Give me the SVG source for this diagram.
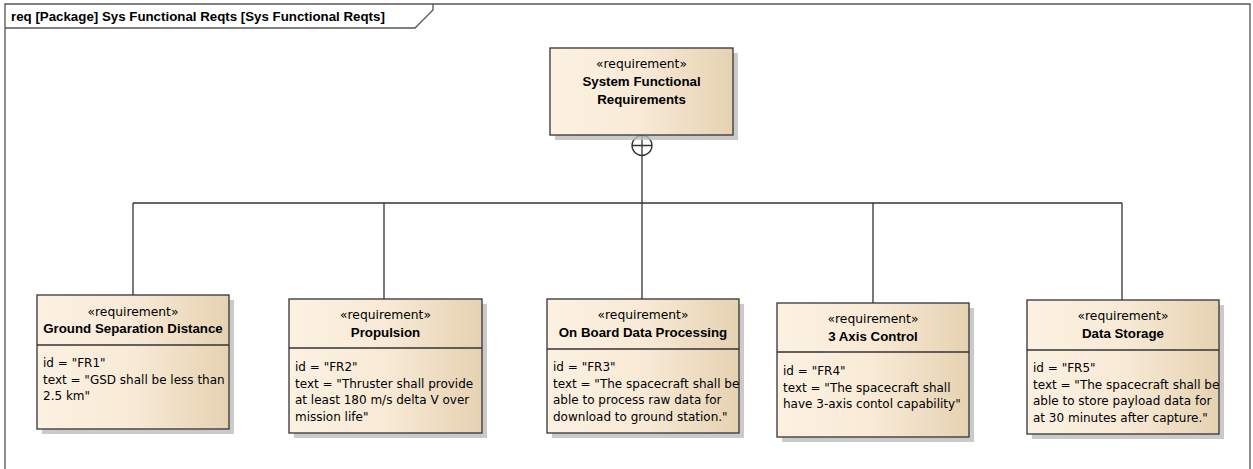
<svg xmlns="http://www.w3.org/2000/svg" width="1253" height="469" viewBox="0 0 1253 469">
<style>
.frame{fill:none;stroke:#555;stroke-width:1.3}
.title{font-family:"Liberation Sans",Arial,sans-serif;font-size:13.3px;font-weight:bold;fill:#000}
.box{fill:url(#g);stroke:#333;stroke-width:1.3}
.shadow{fill:#bdbdbd;opacity:0.8}
.div{stroke:#333;stroke-width:1.3}
.st{font-family:"DejaVu Sans",Verdana,sans-serif;font-size:12.3px;fill:#000;text-anchor:middle}
.nm{font-family:"Liberation Sans",Arial,sans-serif;font-size:13.3px;font-weight:bold;fill:#000;text-anchor:middle}
.bd{font-family:"DejaVu Sans",Verdana,sans-serif;font-size:12px;fill:#000}
.con{fill:none;stroke:#333;stroke-width:1.3}
</style>
<defs>
<linearGradient id="g" x1="0" y1="0" x2="1" y2="0">
<stop offset="0" stop-color="#fcf1e2"/>
<stop offset="0.5" stop-color="#f8ead6"/>
<stop offset="1" stop-color="#e6d2b2"/>
</linearGradient>
</defs>
<rect width="1253" height="469" fill="#fff"/>
<g id="frame">
<path class="frame" d="M5,475 L5,4 L1250,4 L1250,475"/>
<path class="frame" d="M5,28 L415,28 L433,10 L433,4"/>
<text class="title" x="11" y="20.5">req [Package] Sys Functional Reqts [Sys Functional Reqts]</text>
</g>
<g id="connectors">
<circle class="con" cx="642" cy="145.5" r="10" fill="#fff"/>
<path class="con" d="M632,145.5 H652 M642,135.5 V203"/>
<path class="con" d="M133,203 H1122 M133,203 V295 M384,203 V299 M642,203 V299 M873,203 V303 M1122,203 V300"/>
</g>
<g id="sfr">
<rect class="shadow" x="555" y="53" width="183" height="87"/>
<rect class="box" x="550" y="48" width="183" height="87"/>
<text class="st" x="641.5" y="68">«requirement»</text>
<text class="nm" x="641.5" y="86">System Functional</text>
<text class="nm" x="641.5" y="104">Requirements</text>
</g>
<g id="fr1">
<rect class="shadow" x="42" y="300" width="192" height="134"/>
<rect class="box" x="37" y="295" width="192" height="134"/>
<line class="div" x1="37" y1="345" x2="229" y2="345"/>
<text class="st" x="133" y="316">«requirement»</text>
<text class="nm" x="133" y="333">Ground Separation Distance</text>
<text class="bd" x="43" y="367">id = "FR1"</text>
<text class="bd" x="43" y="383.5">text = "GSD shall be less than</text>
<text class="bd" x="43" y="400">2.5 km"</text>
</g>
<g id="fr2">
<rect class="shadow" x="294" y="304" width="193" height="134"/>
<rect class="box" x="289" y="299" width="193" height="134"/>
<line class="div" x1="289" y1="348" x2="482" y2="348"/>
<text class="st" x="385.5" y="319">«requirement»</text>
<text class="nm" x="385.5" y="337">Propulsion</text>
<text class="bd" x="295" y="371">id = "FR2"</text>
<text class="bd" x="295" y="387.5">text = "Thruster shall provide</text>
<text class="bd" x="295" y="404">at least 180 m/s delta V over</text>
<text class="bd" x="295" y="420.5">mission life"</text>
</g>
<g id="fr3">
<rect class="shadow" x="552" y="304" width="192" height="134"/>
<rect class="box" x="547" y="299" width="192" height="134"/>
<line class="div" x1="547" y1="349" x2="739" y2="349"/>
<text class="st" x="643" y="319">«requirement»</text>
<text class="nm" x="643" y="337">On Board Data Processing</text>
<text class="bd" x="553" y="371">id = "FR3"</text>
<text class="bd" x="553" y="387.5">text = "The spacecraft shall be</text>
<text class="bd" x="553" y="404">able to process raw data for</text>
<text class="bd" x="553" y="420.5">download to ground station."</text>
</g>
<g id="fr4">
<rect class="shadow" x="782" y="308" width="192" height="134"/>
<rect class="box" x="777" y="303" width="192" height="134"/>
<line class="div" x1="777" y1="352" x2="969" y2="352"/>
<text class="st" x="873" y="323">«requirement»</text>
<text class="nm" x="873" y="341">3 Axis Control</text>
<text class="bd" x="783" y="375">id = "FR4"</text>
<text class="bd" x="783" y="391.5">text = "The spacecraft shall</text>
<text class="bd" x="783" y="408">have 3-axis contol capability"</text>
</g>
<g id="fr5">
<rect class="shadow" x="1032" y="305" width="192" height="134"/>
<rect class="box" x="1027" y="300" width="192" height="134"/>
<line class="div" x1="1027" y1="350" x2="1219" y2="350"/>
<text class="st" x="1123" y="320">«requirement»</text>
<text class="nm" x="1123" y="338">Data Storage</text>
<text class="bd" x="1033" y="372">id = "FR5"</text>
<text class="bd" x="1033" y="388.5">text = "The spacecraft shall be</text>
<text class="bd" x="1033" y="405">able to store payload data for</text>
<text class="bd" x="1033" y="421.5">at 30 minutes after capture."</text>
</g>
</svg>
